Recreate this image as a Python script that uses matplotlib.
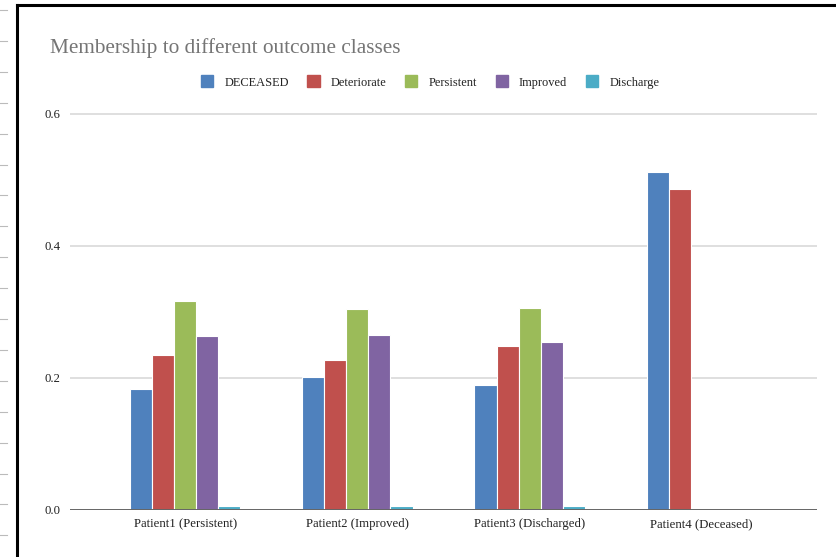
import matplotlib.pyplot as plt
import numpy as np
from matplotlib.lines import Line2D
from matplotlib.patches import Patch

###################################################################################################

patients = ["Patient1 (Persistent)", "Patient2 (Improved)", "Patient3 (Discharged)", "Patient4 (Deceased)"]
classes = ["DECEASED", "Deteriorate", "Persistent", "Improved", "Discharge"]

deceased = [0.183, 0.201, 0.189, 0.512]
deteriorate = [0.235, 0.227, 0.248, 0.486]
persistent = [0.317, 0.305, 0.306, 0.0]
improved = [0.264, 0.265, 0.255, 0.0]
discharge = [0.006, 0.006, 0.006, 0.0]

y_ticks = [0.0, 0.2, 0.4, 0.6]
colors = ["#4F81BD", "#C0504D", "#9BBB59", "#8064A2", "#4BACC6"]

###################################################################################################

plt.rcParams["font.family"] = ["Liberation Serif", "DejaVu Serif"]

fig = plt.figure(figsize=(8.36, 5.57), dpi=100)
ax = fig.add_axes([0.0837, 0.0844, 0.8936, 0.7465])

series = [deceased, deteriorate, persistent, improved, discharge]
x = np.arange(len(patients))
width = 0.128
for i, (vals, col) in enumerate(zip(series, colors)):
    offs = (i - 2) * width
    ax.bar(x + offs, vals, width, color=col, edgecolor="white", linewidth=0.8, zorder=3)

ax.set_xlim(-0.67, 3.67)
ax.set_ylim(0, 0.63)
ax.set_yticks(y_ticks)
ax.set_yticklabels([f"{t:.1f}" for t in y_ticks])
ax.set_xticks(x)
ax.set_xticklabels(patients)
ax.tick_params(axis="both", length=0, labelsize=9.2, colors="#222222")
ax.tick_params(axis="y", pad=7)
ax.tick_params(axis="x", pad=6)

ax.grid(axis="y", color="#dcdcdc", linewidth=1.3, zorder=0)
for s in ax.spines.values():
    s.set_visible(False)
ax.axhline(0, color="#666666", linewidth=1.4, zorder=4)

fig.text(50 / 836, 1 - 53 / 557, "Membership to different outcome classes",
         fontsize=15.3, color="#757575", va="baseline", ha="left")

handles = [Patch(facecolor=c, edgecolor=c) for c in colors]
fig.legend(handles, classes, loc="center", bbox_to_anchor=(430 / 836, 1 - 82 / 557),
           ncol=5, frameon=False, fontsize=8.9, handlelength=1.0, handleheight=1.1,
           handletextpad=0.9, columnspacing=1.5, labelcolor="#222222")

# window frame and the dashes to its left
fig.add_artist(Line2D([17 / 836, 17 / 836], [0, 1 - 5 / 557], color="black", linewidth=2.2))
fig.add_artist(Line2D([17 / 836, 1], [1 - 5 / 557, 1 - 5 / 557], color="black", linewidth=2.2))
for yy in np.arange(10, 557, 30.9):
    fig.add_artist(Line2D([0, 7 / 836], [1 - yy / 557] * 2, color="#bbbbbb", linewidth=0.8))

fig.savefig("out.png", dpi=100)
